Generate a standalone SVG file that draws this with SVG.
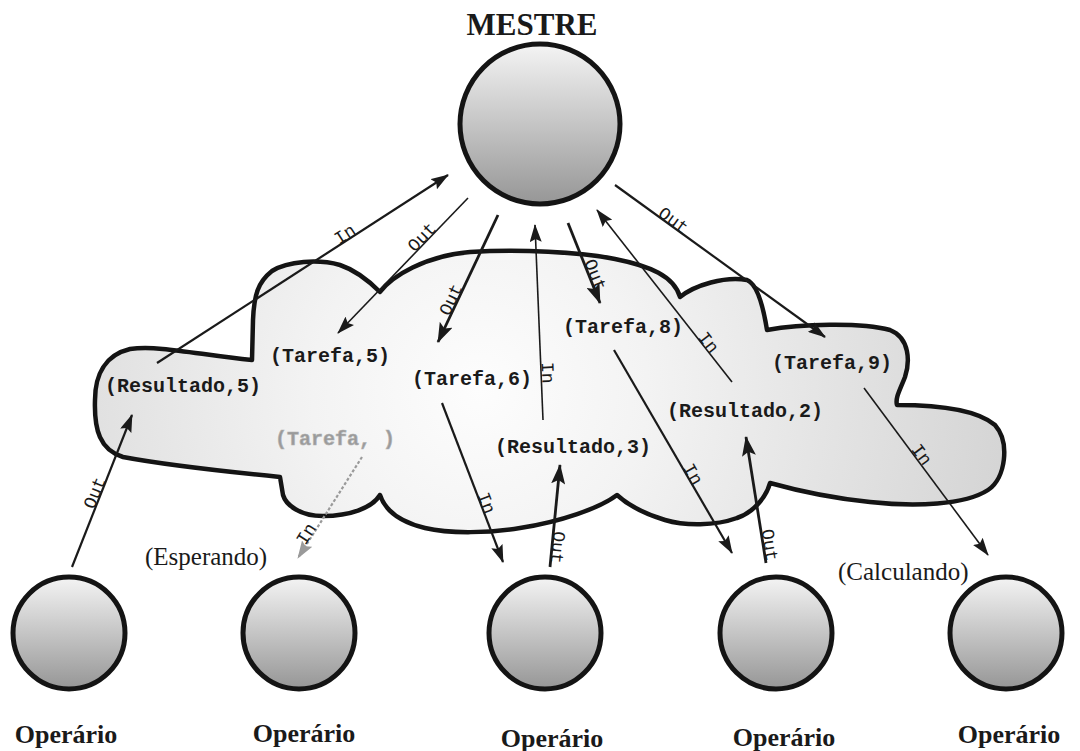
<svg xmlns="http://www.w3.org/2000/svg" width="1080" height="751" viewBox="0 0 1080 751">
  <style>
    .ball { stroke: #141414; stroke-width: 5; fill: url(#ballFill); }
    .title { font-family: "Liberation Serif", "Times New Roman", serif; font-weight: bold; fill: #1a1a1a; text-anchor: middle; }
    .state { font-family: "Liberation Serif", "Times New Roman", serif; font-size: 25px; fill: #1a1a1a; }
    .tuple { font-family: "Liberation Mono", "Courier New", monospace; font-weight: bold; font-size: 20px; fill: #1a1a1a; }
    .tuple-ghost { fill: #9a9a9a; stroke: #b0b0b0; stroke-width: 0.6; }
    .op { font-family: "Liberation Mono", "Courier New", monospace; font-size: 18px; fill: #1a1a1a; text-anchor: middle; }
    .thin { stroke: #1a1a1a; stroke-width: 1.6; fill: none; marker-end: url(#head); }
    .mid { stroke: #1a1a1a; stroke-width: 2.2; fill: none; marker-end: url(#head); }
    .bold { stroke: #1a1a1a; stroke-width: 2.8; fill: none; marker-end: url(#headBig); }
    .pending { stroke: #9a9a9a; stroke-width: 2.2; stroke-dasharray: 3 2; fill: none; marker-end: url(#headGrey); }
  </style>
  <defs>
    <linearGradient id="ballFill" x1="0" y1="0" x2="0" y2="1">
      <stop offset="0" stop-color="#f4f4f4"/>
      <stop offset="1" stop-color="#969696"/>
    </linearGradient>
    <radialGradient id="cloudFill" gradientUnits="userSpaceOnUse" cx="480" cy="390" r="560">
      <stop offset="0" stop-color="#fdfdfd"/>
      <stop offset="0.3" stop-color="#f3f3f3"/>
      <stop offset="1" stop-color="#d2d2d2"/>
    </radialGradient>
    <marker id="head" markerUnits="userSpaceOnUse" markerWidth="18" markerHeight="12" refX="17" refY="6" orient="auto">
      <path d="M0,0 L18,6 L0,12 L3,6 Z" fill="#1a1a1a"/>
    </marker>
    <marker id="headBig" markerUnits="userSpaceOnUse" markerWidth="20" markerHeight="14" refX="19" refY="7" orient="auto">
      <path d="M0,0 L20,7 L0,14 L4,7 Z" fill="#1a1a1a"/>
    </marker>
    <marker id="headGrey" markerUnits="userSpaceOnUse" markerWidth="18" markerHeight="12" refX="17" refY="6" orient="auto">
      <path d="M0,0 L18,6 L0,12 L3,6 Z" fill="#9a9a9a"/>
    </marker>
  </defs>

  <rect width="1080" height="751" fill="#ffffff"/>

  <!-- tuple space -->
  <g id="tuple-space">
    <path d="M252,360 L253,320 C254,295 258,282 272,271 C288,261 318,259 340,265 C355,270 370,282 380,292
             C392,276 425,256 470,252 C520,249 580,252 615,259 C650,266 674,276 680,297
             C695,285 725,276 747,280 C757,284 763,305 767,330
             C800,324 860,322 890,330 C910,338 910,362 905,377 C900,390 895,398 897,405
             C930,405 975,408 995,425 C1010,442 1006,478 988,490 C965,505 915,507 870,502 C830,498 795,490 770,483
             C767,495 755,512 737,518 C715,526 685,526 665,520 C645,514 628,505 617,495
             C600,508 560,522 520,528 C490,533 450,534 425,528 C400,522 385,510 380,495
             C372,508 350,516 323,516 C300,516 286,505 283,495 L280,477
             C230,472 160,464 123,457 C100,450 94,430 95,400 C95,375 105,355 130,349 C160,345 200,355 252,360 Z"
          fill="url(#cloudFill)" stroke="#141414" stroke-width="4.5" stroke-linejoin="round"/>
    <text class="tuple" x="105" y="392">(Resultado,5)</text>
    <text class="tuple" x="270" y="362">(Tarefa,5)</text>
    <text class="tuple" x="412" y="385">(Tarefa,6)</text>
    <text class="tuple" x="563" y="333">(Tarefa,8)</text>
    <text class="tuple" x="772" y="369">(Tarefa,9)</text>
    <text class="tuple" x="667" y="417">(Resultado,2)</text>
    <text class="tuple" x="495" y="453">(Resultado,3)</text>
    <text class="tuple tuple-ghost" x="275" y="445">(Tarefa, )</text>
  </g>

  <!-- in / out operations -->
  <g id="connectors">
    <line class="mid" x1="157" y1="363" x2="448" y2="175"/>
    <text class="op" transform="translate(348,239) rotate(-33)">In</text>

    <line class="thin" x1="468" y1="198" x2="338" y2="333"/>
    <text class="op" transform="translate(426,241) rotate(-46)">Out</text>

    <line class="bold" x1="498" y1="215" x2="438" y2="342"/>
    <text class="op" transform="translate(456,302) rotate(-65)">Out</text>

    <line class="thin" x1="543" y1="420" x2="535" y2="225"/>
    <text class="op" transform="translate(542,373) rotate(87.7)">In</text>

    <line class="bold" x1="568" y1="223" x2="600" y2="303"/>
    <text class="op" transform="translate(590,277) rotate(68)">Out</text>

    <line class="thin" x1="732" y1="382" x2="597" y2="210"/>
    <text class="op" transform="translate(704,346) rotate(52)">In</text>

    <line class="mid" x1="615" y1="185" x2="825" y2="337"/>
    <text class="op" transform="translate(670,225) rotate(36)">Out</text>

    <line class="mid" x1="614" y1="350" x2="732" y2="553"/>
    <text class="op" transform="translate(688,477) rotate(60)">In</text>

    <line class="bold" x1="766" y1="563" x2="746" y2="437"/>
    <text class="op" transform="translate(764,546) rotate(81)">Out</text>

    <line class="thin" x1="864" y1="388" x2="988" y2="555"/>
    <text class="op" transform="translate(917,458) rotate(53)">In</text>

    <line class="mid" x1="442" y1="403" x2="503" y2="562"/>
    <text class="op" transform="translate(481,505) rotate(69)">In</text>

    <line class="bold" x1="550" y1="567" x2="560" y2="465"/>
    <text class="op" transform="translate(552,547) rotate(95.6)">Out</text>

    <line class="mid" x1="72" y1="567" x2="132" y2="415"/>
    <text class="op" transform="translate(100,495) rotate(-68.5)">Out</text>

    <line class="pending" x1="362" y1="457" x2="298" y2="558"/>
    <text class="op" transform="translate(311,537) rotate(-57.6)">In</text>
  </g>

  <!-- master -->
  <g id="mestre">
    <text class="title" x="532" y="35" font-size="31">MESTRE</text>
    <circle class="ball" cx="540" cy="124" r="80"/>
  </g>

  <!-- workers -->
  <g id="operario-1">
    <circle class="ball" cx="69" cy="633" r="56"/>
    <text class="title" x="66" y="743" font-size="26">Operário</text>
  </g>
  <g id="operario-2">
    <circle class="ball" cx="299" cy="633" r="56"/>
    <text class="state" x="145" y="565">(Esperando)</text>
    <text class="title" x="304" y="742" font-size="26">Operário</text>
  </g>
  <g id="operario-3">
    <circle class="ball" cx="545" cy="633" r="56"/>
    <text class="title" x="552" y="747" font-size="26">Operário</text>
  </g>
  <g id="operario-4">
    <circle class="ball" cx="776" cy="633" r="56"/>
    <text class="title" x="784" y="746" font-size="26">Operário</text>
  </g>
  <g id="operario-5">
    <circle class="ball" cx="1006" cy="633" r="56"/>
    <text class="state" x="838" y="580">(Calculando)</text>
    <text class="title" x="1009" y="743" font-size="26">Operário</text>
  </g>
</svg>
